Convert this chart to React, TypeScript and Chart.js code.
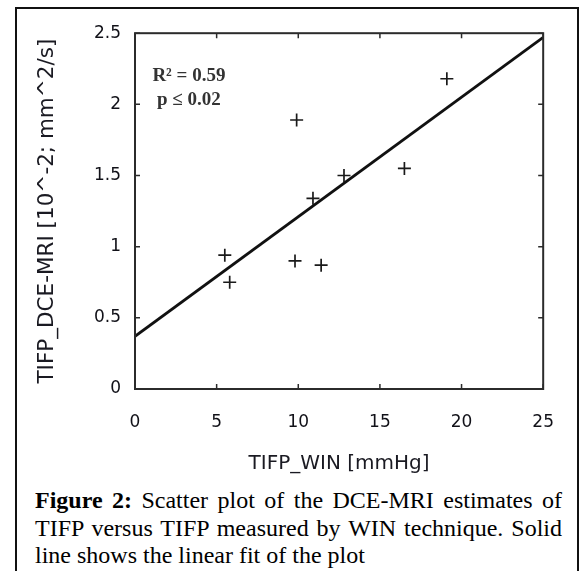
import React, { useEffect, useRef } from 'react';
import { Chart, registerables } from 'chart.js';
Chart.register(...registerables);

// Scatter data: TIFP by WIN (mmHg) vs TIFP by DCE-MRI
const winTIFP = [5.5, 5.8, 9.8, 9.9, 10.9, 11.4, 12.8, 16.5, 19.1];
const dceTIFP = [0.94, 0.75, 0.9, 1.89, 1.34, 0.87, 1.5, 1.55, 2.18];

// Linear fit end points
const fitX = [0, 25];
const fitY = [0.37, 2.47];

const xTicks = [0, 5, 10, 15, 20, 25];
const yTicks = [0, 0.5, 1, 1.5, 2, 2.5];
const xTickLabels = ['0', '5', '10', '15', '20', '25'];
const yTickLabels = ['0', '0.5', '1', '1.5', '2', '2.5'];

const xTitle = 'TIFP_WIN [mmHg]';
const yTitle = 'TIFP_DCE-MRI [10^-2; mm^2/s]';

const annotationLines = ['R\u00B2 = 0.59', 'p \u2264 0.02'];
const annotationX = 3.3;
const annotationY = [2.2, 2.03];

const captionBold = 'Figure 2:';
const captionText =
  ' Scatter plot of the DCE-MRI estimates of TIFP versus TIFP measured by WIN technique. Solid line shows the linear fit of the plot';

const boxPlugin = {
  id: 'boxTicks',
  afterDatasetsDraw(chart: any) {
    const { ctx, chartArea: a, scales } = chart;
    const xs = scales.x;
    const ys = scales.y;
    ctx.save();
    ctx.strokeStyle = '#2b2b2b';
    ctx.lineWidth = 1.5;
    const tl = 5;
    ctx.beginPath();
    xTicks.forEach((v) => {
      const px = xs.getPixelForValue(v);
      ctx.moveTo(px, a.bottom);
      ctx.lineTo(px, a.bottom - tl);
      ctx.moveTo(px, a.top);
      ctx.lineTo(px, a.top + tl);
    });
    yTicks.forEach((v) => {
      const py = ys.getPixelForValue(v);
      ctx.moveTo(a.left, py);
      ctx.lineTo(a.left + tl, py);
      ctx.moveTo(a.right, py);
      ctx.lineTo(a.right - tl, py);
    });
    ctx.stroke();
    ctx.lineWidth = 2;
    ctx.strokeRect(a.left, a.top, a.right - a.left, a.bottom - a.top);

    ctx.fillStyle = '#333';
    ctx.font = 'bold 19px "Liberation Serif", "Times New Roman", serif';
    ctx.textAlign = 'center';
    ctx.textBaseline = 'middle';
    annotationLines.forEach((t, i) => {
      ctx.fillText(t, xs.getPixelForValue(annotationX), ys.getPixelForValue(annotationY[i]));
    });
    ctx.restore();
  },
};

export default function App() {
  const canvasRef = useRef<HTMLCanvasElement | null>(null);

  useEffect(() => {
    const canvas = canvasRef.current;
    if (!canvas) return;
    const chart = new Chart(canvas, {
      type: 'scatter',
      data: {
        datasets: [
          {
            type: 'line',
            label: 'fit',
            data: fitX.map((x, i) => ({ x, y: fitY[i] })),
            borderColor: '#111',
            borderWidth: 2.8,
            pointRadius: 0,
            fill: false,
          } as any,
          {
            label: 'data',
            data: winTIFP.map((x, i) => ({ x, y: dceTIFP[i] })),
            pointStyle: 'cross',
            pointRadius: 6.5,
            pointBorderWidth: 1.7,
            borderColor: '#1a1a1a',
            backgroundColor: '#1a1a1a',
          } as any,
        ],
      },
      options: {
        responsive: false,
        animation: false,
        layout: { padding: { top: 21, right: 32, left: 0, bottom: 0 } },
        plugins: { legend: { display: false }, tooltip: { enabled: false } },
        scales: {
          x: {
            type: 'linear',
            min: 0,
            max: 25,
            border: { display: false },
            grid: { display: false, drawTicks: false },
            afterBuildTicks: (s: any) => {
              s.ticks = xTicks.map((v) => ({ value: v }));
            },
            afterFit: (s: any) => {
              s.height = 90;
            },
            ticks: {
              padding: 23,
              color: '#111118',
              font: { family: '"DejaVu Sans", Verdana, sans-serif', size: 17 },
              callback: (v: any) => {
                const i = xTicks.indexOf(Number(v));
                return i >= 0 ? xTickLabels[i] : '';
              },
            },
            title: {
              display: true,
              text: xTitle,
              color: '#1a1a22',
              font: { family: '"DejaVu Sans", Verdana, sans-serif', size: 20 },
              padding: { top: 0, bottom: 3 },
            },
          },
          y: {
            type: 'linear',
            min: 0,
            max: 2.5,
            border: { display: false },
            grid: { display: false, drawTicks: false },
            afterBuildTicks: (s: any) => {
              s.ticks = yTicks.map((v) => ({ value: v }));
            },
            afterFit: (s: any) => {
              s.width = 118;
            },
            ticks: {
              padding: 14,
              color: '#111118',
              font: { family: '"DejaVu Sans", Verdana, sans-serif', size: 17 },
              callback: (v: any) => {
                const i = yTicks.indexOf(Number(v));
                return i >= 0 ? yTickLabels[i] : '';
              },
            },
            title: {
              display: true,
              text: yTitle,
              color: '#1a1a22',
              font: { family: '"DejaVu Sans", Verdana, sans-serif', size: 21.5 },
              padding: { top: 18, bottom: 0 },
            },
          },
        },
      },
      plugins: [boxPlugin],
    });
    return () => chart.destroy();
  }, []);

  return (
    <div
      style={{
        position: 'absolute',
        left: 15,
        top: 7,
        width: 560,
        height: 562,
        borderLeft: '2px solid #111',
        borderTop: '2px solid #111',
        borderRight: '2px solid #111',
        background: '#fff',
        overflow: 'hidden',
      }}
    >
      <canvas ref={canvasRef} width={560} height={470} style={{ display: 'block' }} />
      <div
        style={{
          marginTop: 8,
          marginLeft: 18,
          width: 527,
          fontFamily: '"Liberation Serif", "Times New Roman", serif',
          fontSize: 24,
          lineHeight: '27.5px',
          textAlign: 'justify',
          color: '#000',
        }}
      >
        <b>{captionBold}</b>
        {captionText}
      </div>
    </div>
  );
}
